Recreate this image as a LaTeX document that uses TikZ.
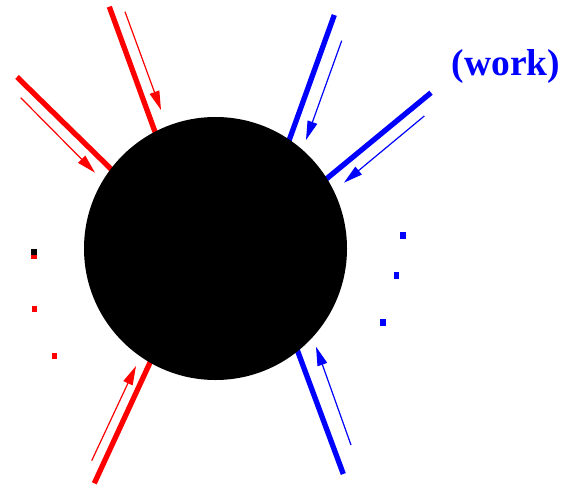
\documentclass[tikz,border=0pt]{standalone}
\usepackage{fontspec}
\setmainfont{Liberation Serif}
\usetikzlibrary{arrows.meta}
\begin{document}
\begin{tikzpicture}[x=1pt,y=-1pt,
  thickline/.style={line width=5.3pt},
  thinarrow/.style={line width=1.2pt,-{Triangle[length=19pt,width=10pt]}},
  dotbox/.style={inner sep=0pt,minimum width=5.7pt,minimum height=6.5pt,draw=none}]
\useasboundingbox (0,0) rectangle (569,486);
% red lines
\coordinate (a1) at (17,77);   \coordinate (a2) at (112.5,170.5);
\coordinate (b1) at (109.3,6.7); \coordinate (b2) at (155.8,134);
\coordinate (e1) at (94.3,483.3); \coordinate (e2) at (150.5,361.5);
\draw[red,thickline] (a1) -- (a2);
\draw[red,thickline] (b1) -- (b2);
\draw[red,thickline] (e1) -- (e2);
% blue lines
\coordinate (c1) at (334.3,15); \coordinate (c2) at (288.5,142);
\coordinate (d1) at (431,92.7); \coordinate (d2) at (326,179.2);
\coordinate (f1) at (343.3,474); \coordinate (f2) at (296.5,348);
\draw[blue,thickline] (c1) -- (c2);
\draw[blue,thickline] (d1) -- (d2);
\draw[blue,thickline] (f1) -- (f2);
% ball
\node[circle,fill=black,inner sep=0pt,minimum size=263pt] (ball) at (215.5,248.5) {};
% thin arrows
\coordinate (ta1) at (20.7,97.7);  \coordinate (ta2) at (95,172.7);
\coordinate (tb1) at (125,11.7);   \coordinate (tb2) at (161,110);
\coordinate (te1) at (91.7,460.7); \coordinate (te2) at (136,366);
\coordinate (tc1) at (341.7,40.7); \coordinate (tc2) at (306,140);
\coordinate (td1) at (424.3,116);  \coordinate (td2) at (344,182.7);
\coordinate (tf1) at (351,445);    \coordinate (tf2) at (316,346.7);
\draw[red,thinarrow] (ta1) -- (ta2);
\draw[red,thinarrow] (tb1) -- (tb2);
\draw[red,thinarrow] (te1) -- (te2);
\draw[blue,thinarrow] (tc1) -- (tc2);
\draw[blue,thinarrow] (td1) -- (td2);
\draw[blue,thinarrow] (tf1) -- (tf2);
% dots
\node[dotbox,fill=black,minimum height=5.3pt,anchor=north west] (k1) at (31,249) {};
\node[dotbox,fill=red,minimum height=4.4pt,anchor=north west] (r0) at (31,254.3) {};
\node[dotbox,fill=red,anchor=north west] (r1) at (31.3,305.5) {};
\node[dotbox,fill=red,anchor=north west] (r2) at (51.3,352.5) {};
\node[dotbox,fill=blue,minimum height=7pt,anchor=north west] (u1) at (400,231.5) {};
\node[dotbox,fill=blue,minimum height=7pt,anchor=north west] (u2) at (393.3,271.7) {};
\node[dotbox,fill=blue,minimum height=7pt,anchor=north west] (u3) at (380,319) {};
% label
\node[anchor=base,text=blue,inner sep=0pt,font=\fontsize{37.5}{42}\selectfont\bfseries] (work) at (506,76) {(work)};
\end{tikzpicture}
\end{document}
